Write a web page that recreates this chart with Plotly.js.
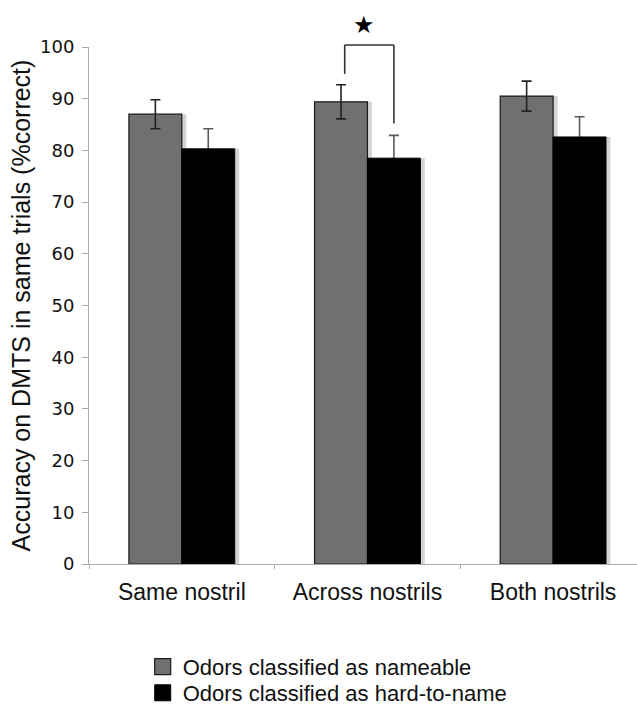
<!DOCTYPE html>
<html>
<head>
<meta charset="utf-8">
<script src="https://cdn.plot.ly/plotly-3.0.1.min.js"></script>
<style>html,body{margin:0;padding:0;background:#fff;}#chart{width:637px;height:705px;}</style>
</head>
<body>
<div id="chart"></div>
<script>
var categories = ["Same nostril", "Across nostrils", "Both nostrils"];
var nameableValues = [87.0, 89.4, 90.5];
var nameableErrors = [2.8, 3.3, 2.9];
var hardValues = [80.3, 78.5, 82.6];
var hardErrors = [3.9, 4.4, 3.9];
var seriesNames = ["Odors classified as nameable", "Odors classified as hard-to-name"];
var sigCategoryIndex = 1;
var sigLabel = "★";

var BW = 0.285;
var shadowShift = 0.024;
var grayFill = '#707070';

var traces = [
  {type:'bar', x:categories, y:nameableValues, offset:-BW+shadowShift, width:BW,
   marker:{color:'#d4d4d4', line:{width:0}}, showlegend:false, hoverinfo:'skip'},
  {type:'bar', x:categories, y:hardValues, offset:shadowShift, width:BW,
   marker:{color:'#d4d4d4', line:{width:0}}, showlegend:false, hoverinfo:'skip'},
  {type:'bar', name:seriesNames[0], x:categories, y:nameableValues, offset:-BW, width:BW,
   marker:{color:grayFill, line:{color:'#1a1a1a', width:1.2}}, showlegend:false,
   error_y:{type:'data', array:nameableErrors, visible:true, color:'#222', thickness:1.6, width:5}},
  // carrier of the hard-to-name error bars, drawn under the black bars
  {type:'bar', x:categories, y:hardValues, offset:0, width:BW,
   marker:{color:'rgba(0,0,0,0)', line:{width:0}}, showlegend:false, hoverinfo:'skip',
   error_y:{type:'data', array:hardErrors, visible:true, color:'#5a5a5a', thickness:1.6, width:5}},
  {type:'bar', name:seriesNames[1], x:categories, y:hardValues, offset:0, width:BW,
   marker:{color:'#000000', line:{color:'#000', width:1}}, showlegend:false},
  // legend entries
  {type:'scatter', mode:'markers', name:seriesNames[0], x:[null], y:[null], legend:'legend',
   marker:{symbol:'square', size:16, color:grayFill, line:{color:'#1a1a1a', width:1.2}}},
  {type:'scatter', mode:'markers', name:seriesNames[1], x:[null], y:[null], legend:'legend2',
   marker:{symbol:'square', size:16, color:'#000', line:{color:'#000', width:1}}}
];

// significance bracket, built from the data
var i = sigCategoryIndex;
var leftTop = nameableValues[i] + nameableErrors[i] + 2.1;
var rightTop = hardValues[i] + hardErrors[i] + 2.3;
var bracketTop = 100.4;
var xl = i - BW/2 + 0.02, xr = i + BW/2;
var lineStyle = {color:'#333', width:1.6};
var shapes = [
  {type:'line', xref:'x', yref:'paper', x0:xl, x1:xl, y0:leftTop/100, y1:bracketTop/100, line:lineStyle},
  {type:'line', xref:'x', yref:'paper', x0:xl, x1:xr, y0:bracketTop/100, y1:bracketTop/100, line:lineStyle},
  {type:'line', xref:'x', yref:'paper', x0:xr, x1:xr, y0:rightTop/100, y1:bracketTop/100, line:lineStyle}
];

var legendFont = {family:'Liberation Sans, Arial, sans-serif', size:22, color:'#111'};
var legendCommon = {orientation:'v', xanchor:'left', yanchor:'middle', font:legendFont,
                    itemwidth:30, itemsizing:'trace', bgcolor:'rgba(0,0,0,0)', borderwidth:0};

var layout = {
  width:637, height:705,
  margin:{l:89, r:0, t:47, b:141, autoexpand:false},
  paper_bgcolor:'#fff', plot_bgcolor:'#fff',
  barmode:'overlay',
  showlegend:true,
  font:{family:'Liberation Sans, Arial, sans-serif', color:'#000'},
  xaxis:{type:'category', range:[-0.5, 2.452], showline:true, linecolor:'#aaa', linewidth:1,
         ticks:'outside', tickson:'boundaries', ticklen:4, tickcolor:'#aaa', ticklabelstandoff:7,
         tickfont:{family:'Liberation Sans, Arial, sans-serif', size:23, color:'#111'},
         showgrid:false, zeroline:false, fixedrange:true, automargin:false},
  yaxis:{range:[0,100], tickvals:[0,10,20,30,40,50,60,70,80,90,100], showline:true, linecolor:'#aaa', linewidth:1,
         ticks:'outside', ticklen:6, tickcolor:'#aaa', ticklabelstandoff:4,
         tickfont:{family:'DejaVu Sans, Verdana, sans-serif', size:18, color:'#111'},
         showgrid:false, zeroline:false, automargin:false,
         title:{text:'Accuracy on DMTS in same trials (%correct)', font:{family:'Liberation Sans, Arial, sans-serif', size:25, color:'#111'}, standoff:2}},
  legend:Object.assign({x:0.098, y:-0.199}, legendCommon),
  legend2:Object.assign({x:0.098, y:-0.2495}, legendCommon),
  shapes:shapes,
  annotations:[{xref:'x', yref:'paper', x:i - 0.02, y:1.043, yanchor:'middle', xanchor:'center', text:sigLabel, showarrow:false,
                font:{size:24, color:'#000', family:'DejaVu Sans, sans-serif'}}]
};

Plotly.newPlot('chart', traces, layout, {staticPlot:true, displayModeBar:false});
</script>
</body>
</html>
